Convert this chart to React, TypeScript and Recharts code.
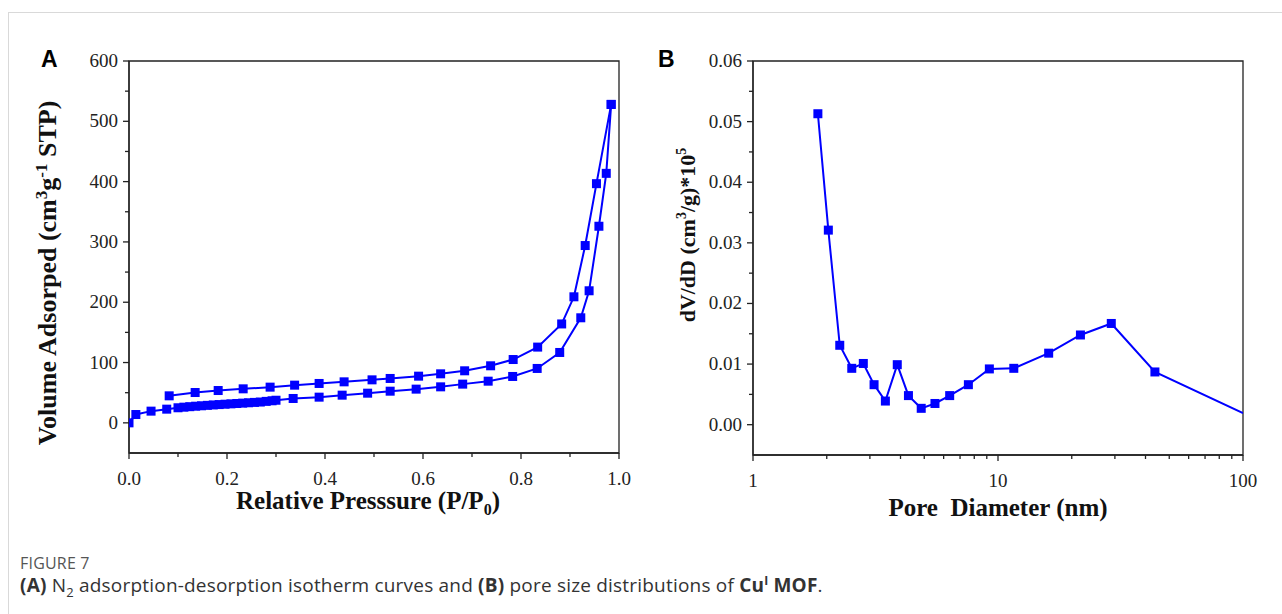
import { LineChart, Line, XAxis, YAxis, ReferenceArea } from 'recharts';

// (A) N2 isotherm — adsorption branch (lower) and desorption branch (upper)
const adsP = [0, 0.014, 0.045, 0.077, 0.1, 0.112, 0.124, 0.136, 0.148, 0.16, 0.172, 0.184, 0.196, 0.208, 0.22, 0.232, 0.244, 0.256, 0.268, 0.28, 0.292, 0.3, 0.335, 0.388, 0.435, 0.487, 0.533, 0.586, 0.636, 0.681, 0.733, 0.783, 0.833, 0.879, 0.922, 0.939, 0.959, 0.974, 0.984];
const adsV = [0, 13.8, 19.4, 22.7, 25.0, 26.0, 26.8, 27.6, 28.3, 29.0, 29.7, 30.3, 30.9, 31.5, 32.1, 32.7, 33.3, 33.9, 34.5, 35.6, 36.6, 37.5, 40.4, 42.6, 45.9, 49.2, 52.5, 55.9, 59.7, 64.2, 69.1, 76.9, 90.2, 116.7, 174.2, 219, 326, 413.7, 528];
const desP = [0.984, 0.954, 0.931, 0.908, 0.883, 0.834, 0.784, 0.738, 0.685, 0.636, 0.591, 0.533, 0.496, 0.439, 0.388, 0.338, 0.288, 0.233, 0.182, 0.135, 0.082];
const desV = [528, 396.6, 294, 209, 164, 125.6, 105, 94.6, 86.3, 81.3, 77.4, 73.6, 71.3, 68, 65.3, 62.5, 59.2, 56.4, 53.6, 50.3, 44.8];

// (B) pore size distribution
const poreD = [1.84, 2.03, 2.26, 2.53, 2.82, 3.12, 3.47, 3.88, 4.31, 4.86, 5.53, 6.35, 7.57, 9.22, 11.6, 16.1, 21.7, 29.0, 43.7, 100];
const poreDV = [0.0513, 0.0321, 0.0131, 0.0093, 0.0101, 0.0066, 0.0039, 0.0099, 0.0048, 0.0027, 0.0035, 0.0048, 0.0066, 0.0092, 0.0093, 0.0118, 0.0148, 0.0167, 0.0087, 0.0019];

const aXTicks = [0, 0.1, 0.2, 0.3, 0.4, 0.5, 0.6, 0.7, 0.8, 0.9, 1.0];
const aYTicks = [0, 50, 100, 150, 200, 250, 300, 350, 400, 450, 500, 550, 600];
const bXTicks = [1, 2, 3, 4, 5, 6, 7, 8, 9, 10, 20, 30, 40, 50, 60, 70, 80, 90, 100];
const bYTicks = [0, 0.005, 0.01, 0.015, 0.02, 0.025, 0.03, 0.035, 0.04, 0.045, 0.05, 0.055, 0.06];

const ads = adsP.map((p, i) => ({ p, v: adsV[i] }));
const des = desP.map((p, i) => ({ p, v: desV[i] }));
const pore = poreD.map((d, i) => ({ d, v: poreDV[i] }));

const BLUE = '#0000ff';
const AXIS = '#222';
const SERIF = '"Liberation Serif", "Times New Roman", serif';
const SANS = '"Open Sans", "Noto Sans", sans-serif';

function Square(props: any) {
  const { cx, cy, index, hideLast, total } = props;
  if (cx == null || cy == null) return <g key={index} />;
  if (hideLast && index === total - 1) return <g key={index} />;
  return <rect key={index} x={cx - 4.5} y={cy - 4.5} width={9} height={9} fill={BLUE} />;
}

function makeXTick(isMajor: (v: number) => boolean, fmt: (v: number) => string, fs: number, dy: number) {
  return (props: any) => {
    const { x, y, payload } = props;
    const major = isMajor(payload.value);
    return (
      <g>
        <line x1={x} y1={y} x2={x} y2={y + (major ? 6 : 4)} stroke={AXIS} strokeWidth={1.3} />
        {major && (
          <text x={x} y={y + dy} textAnchor="middle" fontFamily={SERIF} fontSize={fs} fill="#222">
            {fmt(payload.value)}
          </text>
        )}
      </g>
    );
  };
}

function makeYTick(isMajor: (v: number) => boolean, fmt: (v: number) => string, fs: number) {
  return (props: any) => {
    const { x, y, payload } = props;
    const major = isMajor(payload.value);
    return (
      <g>
        <line x1={x} y1={y} x2={x - (major ? 6 : 4)} y2={y} stroke={AXIS} strokeWidth={1.3} />
        {major && (
          <text x={x - 11} y={y + 6} textAnchor="end" fontFamily={SERIF} fontSize={fs} fill="#222">
            {fmt(payload.value)}
          </text>
        )}
      </g>
    );
  };
}

const near = (v: number, step: number) => Math.abs(v / step - Math.round(v / step)) < 1e-6;

const titleStyle: any = {
  position: 'absolute',
  fontFamily: SERIF,
  fontWeight: 'bold',
  fontSize: 25,
  color: '#111',
  whiteSpace: 'nowrap',
  lineHeight: 1,
};

export default function App() {
  return (
    <div style={{ position: 'absolute', left: 0, top: 0, width: 1282, height: 614, background: '#fff', overflow: 'hidden' }}>
      {/* figure frame */}
      <div style={{ position: 'absolute', left: 8, top: 12, width: 1274, height: 1, background: '#d9d9d9' }} />
      <div style={{ position: 'absolute', left: 8, top: 12, width: 1, height: 602, background: '#d9d9d9' }} />

      <div style={{ position: 'absolute', left: 41, top: 46, fontFamily: '"Liberation Sans", Arial, sans-serif', fontWeight: 'bold', fontSize: 23 }}>A</div>
      <div style={{ position: 'absolute', left: 658, top: 46, fontFamily: '"Liberation Sans", Arial, sans-serif', fontWeight: 'bold', fontSize: 23 }}>B</div>

      {/* panel A */}
      <div style={{ position: 'absolute', left: 0, top: 0 }}>
        <LineChart width={640} height={530} margin={{ top: 61, right: 21, bottom: 47, left: 69 }}>
          <XAxis
            dataKey="p"
            type="number"
            domain={[0, 1]}
            ticks={aXTicks}
            interval={0}
            allowDataOverflow
            tickSize={0}
            tickMargin={0}
            height={30}
            axisLine={{ stroke: AXIS, strokeWidth: 1.3 }}
            tick={makeXTick((v) => near(v, 0.2), (v) => v.toFixed(1), 19, 32)}
          />
          <YAxis
            dataKey="v"
            type="number"
            domain={[-50, 600]}
            ticks={aYTicks}
            interval={0}
            allowDataOverflow
            tickSize={0}
            tickMargin={0}
            width={60}
            axisLine={{ stroke: AXIS, strokeWidth: 1.3 }}
            tick={makeYTick((v) => near(v, 100), (v) => String(v), 19)}
          />
          <ReferenceArea x1={0} x2={1} y1={-50} y2={600} fill="none" stroke={AXIS} strokeWidth={1.3} />
          <Line data={ads} dataKey="v" stroke={BLUE} strokeWidth={2} isAnimationActive={false} dot={(p: any) => <Square {...p} />} />
          <Line data={des} dataKey="v" stroke={BLUE} strokeWidth={2} isAnimationActive={false} dot={(p: any) => <Square {...p} />} />
        </LineChart>
      </div>

      {/* panel B */}
      <div style={{ position: 'absolute', left: 660, top: 0 }}>
        <LineChart width={610} height={530} margin={{ top: 61, right: 27, bottom: 45, left: 33 }}>
          <XAxis
            dataKey="d"
            type="number"
            scale="log"
            domain={[1, 100]}
            ticks={bXTicks}
            interval={0}
            allowDataOverflow
            tickSize={0}
            tickMargin={0}
            height={30}
            axisLine={{ stroke: AXIS, strokeWidth: 1.3 }}
            tick={makeXTick((v) => v === 1 || v === 10 || v === 100, (v) => String(v), 19, 32)}
          />
          <YAxis
            dataKey="v"
            type="number"
            domain={[-0.005, 0.06]}
            ticks={bYTicks}
            interval={0}
            allowDataOverflow
            tickSize={0}
            tickMargin={0}
            width={60}
            axisLine={{ stroke: AXIS, strokeWidth: 1.3 }}
            tick={makeYTick((v) => near(v, 0.01), (v) => v.toFixed(2), 19)}
          />
          <ReferenceArea x1={1} x2={100} y1={-0.005} y2={0.06} fill="none" stroke={AXIS} strokeWidth={1.3} />
          <Line
            data={pore}
            dataKey="v"
            stroke={BLUE}
            strokeWidth={2}
            isAnimationActive={false}
            dot={(p: any) => <Square {...p} hideLast total={pore.length} />}
          />
        </LineChart>
      </div>

      {/* axis titles */}
      <div style={{ ...titleStyle, left: 368, top: 503, transform: 'translate(-50%, -50%)' }}>
        Relative Presssure (P/P<sub style={{ fontSize: 16 }}>0</sub>)
      </div>
      <div style={{ ...titleStyle, left: 998, top: 507, transform: 'translate(-50%, -50%)', whiteSpace: 'pre' }}>
        {'Pore  Diameter (nm)'}
      </div>
      <div style={{ ...titleStyle, fontSize: 26, left: 47, top: 273, transform: 'translate(-50%, -50%) rotate(-90deg)' }}>
        Volume Adsorped (cm<sup style={{ fontSize: 17 }}>3</sup>g<sup style={{ fontSize: 17 }}>-1</sup> STP)
      </div>
      <div style={{ ...titleStyle, fontSize: 22, left: 687, top: 235, transform: 'translate(-50%, -50%) rotate(-90deg)' }}>
        dV/dD (cm<sup style={{ fontSize: 14 }}>3</sup>/g)*10<sup style={{ fontSize: 14 }}>5</sup>
      </div>

      {/* caption */}
      <div style={{ position: 'absolute', left: 20, top: 555, fontFamily: SANS, fontSize: 16, lineHeight: 1, color: '#555', letterSpacing: 0.2 }}>
        FIGURE 7
      </div>
      <div style={{ position: 'absolute', left: 20, top: 575, fontFamily: SANS, fontSize: 19, lineHeight: 1, color: '#333', letterSpacing: 0.2, whiteSpace: 'nowrap' }}>
        <b>(A)</b> N<sub style={{ fontSize: 13 }}>2</sub> adsorption-desorption isotherm curves and <b>(B)</b> pore size distributions of <b>Cu<sup style={{ fontSize: 12 }}>I</sup> MOF</b>.
      </div>
    </div>
  );
}
